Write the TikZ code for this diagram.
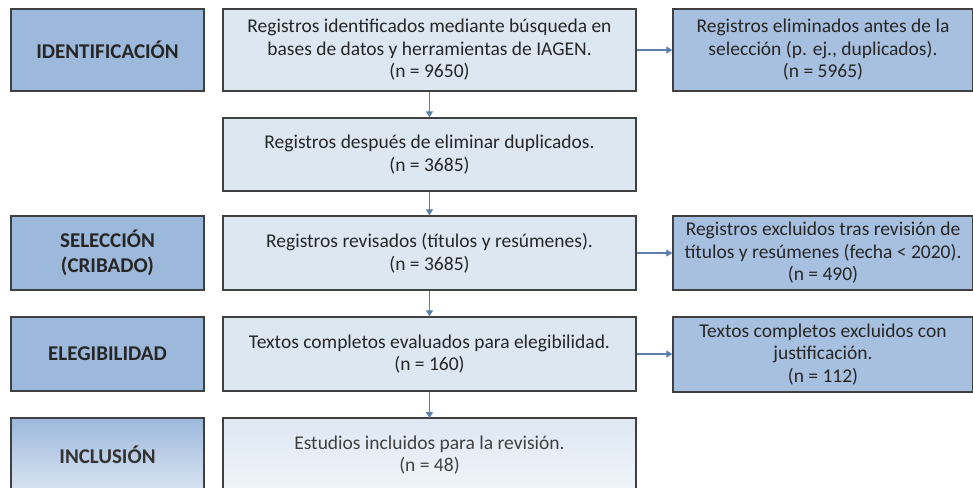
\documentclass[tikz,border=0pt]{standalone}
\usepackage{fontspec}
\setmainfont{Carlito}
\usetikzlibrary{arrows.meta}
\definecolor{leftfill}{HTML}{9CB8DB}
\definecolor{midfill}{HTML}{DDE7F2}
\definecolor{rightfill}{HTML}{A8C0DF}
\definecolor{edgecol}{HTML}{404040}
\definecolor{arrcol}{HTML}{5B7FAA}
\begin{document}
\begin{tikzpicture}[x=1pt,y=1pt,
  box/.style={draw=edgecol, line width=1.4pt, rectangle, inner sep=0pt, align=center, font=\fontsize{19.5}{22.5}\selectfont, text=black!85},
  phase/.style={box, fill=leftfill, font=\fontsize{21}{25}\selectfont\bfseries, minimum width=193pt},
  midbox/.style={box, fill=midfill, minimum width=413pt},
  sidebox/.style={box, fill=rightfill, minimum width=300pt},
  flow/.style={draw=arrcol, line width=1.2pt, -{Triangle[length=6pt,width=7pt]}}
]
\useasboundingbox (0,0) rectangle (973,-487);
\fill[white] (0,0) rectangle (973,-487);
\begin{scope}
\clip (0,0) rectangle (973,-487);
% phase boxes
\node[phase, minimum height=82pt] (p1) at (107.5,-50) {IDENTIFICACIÓN};
\node[phase, minimum height=74pt] (p2) at (107.5,-253) {SELECCIÓN\\(CRIBADO)};
\node[phase, minimum height=74pt] (p3) at (107.5,-354) {ELEGIBILIDAD};
\shade[top color=leftfill, bottom color=leftfill!35!white] (11,-418) rectangle (204,-495);
\draw[edgecol, line width=1.4pt] (11,-495) -- (11,-418) -- (204,-418) -- (204,-495);
\node[font=\fontsize{21}{25}\selectfont\bfseries, text=black!80] (p4) at (107.5,-455) {INCLUSIÓN};
% middle boxes
\node[midbox, minimum height=82pt] (m1) at (429.5,-50) {Registros identificados mediante búsqueda en\\bases de datos y herramientas de IAGEN.\\(n = 9650)};
\node[midbox, minimum height=73pt] (m2) at (429.5,-154.5) {Registros después de eliminar duplicados.\\(n = 3685)};
\node[midbox, minimum height=74pt] (m3) at (429.5,-253) {Registros revisados (títulos y resúmenes).\\(n = 3685)};
\node[midbox, minimum height=74pt] (m4) at (429.5,-354) {Textos completos evaluados para elegibilidad.\\(n = 160)};
\shade[top color=midfill, bottom color=midfill!40!white] (223,-418) rectangle (636,-495);
\draw[edgecol, line width=1.4pt] (223,-495) -- (223,-418) -- (636,-418) -- (636,-495);
\coordinate (m5top) at (429.5,-418);
\node[font=\fontsize{19.5}{22.5}\selectfont, align=center, text=black!75] (m5) at (429.5,-455) {Estudios incluidos para la revisión.\\(n = 48)};
% side boxes
\node[sidebox, minimum height=82pt] (r1) at (823,-50) {Registros eliminados antes de la\\selección (p. ej., duplicados).\\(n = 5965)};
\node[sidebox, minimum height=74pt] (r2) at (823,-253) {Registros excluidos tras revisión de\\títulos y resúmenes (fecha < 2020).\\(n = 490)};
\node[sidebox, minimum height=75pt] (r3) at (823,-354.5) {Textos completos excluidos con\\justificación.\\(n = 112)};
% connectors
\draw[flow] (m1) -- (m2);
\draw[flow] (m2) -- (m3);
\draw[flow] (m3) -- (m4);
\draw[flow] (m4) -- (m5top);
\draw[flow] (m1.east) -- (m1.east -| r1.west);
\draw[flow] (m3.east) -- (m3.east -| r2.west);
\draw[flow] (m4.east) -- (m4.east -| r3.west);
\end{scope}
\end{tikzpicture}
\end{document}
